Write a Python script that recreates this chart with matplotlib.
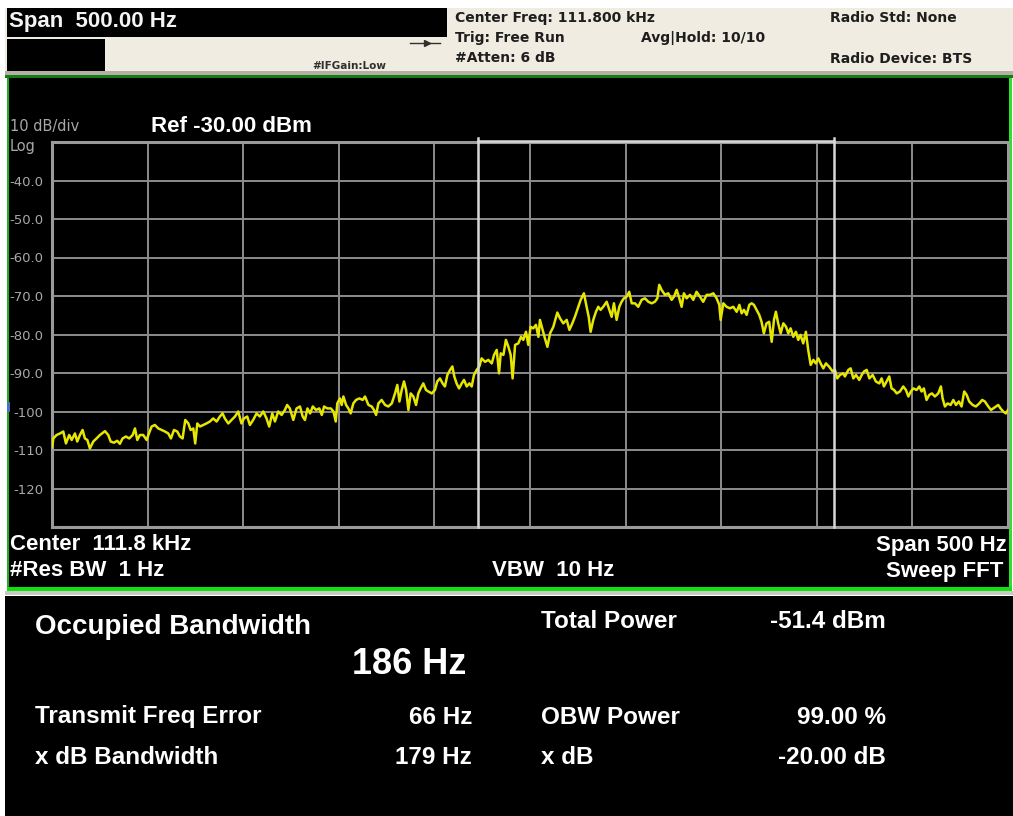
import matplotlib
matplotlib.use("Agg")
import matplotlib.pyplot as plt
from matplotlib.patches import Rectangle

# trace: offset from centre (Hz) and level (dBm)
freq_hz = [
    -250.0, -249.3, -247.6, -245.8, -244.1, -242.7, -241.0, -239.7, -238.0, -236.8,
    -235.4, -234.0, -232.8, -231.5, -230.2, -228.4, -226.7, -224.9, -222.3, -220.6,
    -219.3, -217.6, -215.9, -214.5, -213.1, -211.3, -209.6, -207.8, -206.6, -205.4,
    -204.0, -202.3, -200.5, -199.3, -197.9, -196.2, -194.4, -192.7, -190.9, -189.2,
    -187.8, -186.2, -184.5, -183.1, -181.7, -180.3, -178.7, -177.5, -176.1, -175.1,
    -174.0, -172.6, -170.9, -169.2, -167.4, -165.7, -163.9, -162.2, -160.8, -159.6,
    -157.8, -156.1, -154.3, -152.6, -150.9, -149.6, -147.9, -146.5, -144.8, -143.0,
    -141.3, -139.5, -137.8, -136.4, -134.8, -133.4, -131.7, -129.9, -128.2, -127.0,
    -125.6, -123.8, -122.1, -120.3, -118.9, -117.7, -116.4, -115.0, -113.6, -111.9,
    -110.2, -108.9, -107.7, -106.0, -104.2, -102.8, -101.6, -100.8, -99.4, -98.5,
    -97.6, -96.2, -95.0, -93.8, -92.4, -91.0, -89.2, -87.5, -86.3, -84.5,
    -82.8, -81.6, -80.5, -79.3, -77.6, -75.8, -74.1, -72.3, -70.6, -69.4,
    -68.3, -67.1, -65.9, -64.8, -63.6, -62.4, -61.0, -59.6, -58.4, -57.2,
    -55.8, -54.4, -53.2, -51.4, -49.7, -48.5, -47.1, -45.7, -44.5, -43.2,
    -41.8, -40.6, -39.6, -38.4, -37.1, -35.7, -34.5, -33.1, -31.7, -30.5,
    -29.3, -27.9, -26.5, -25.3, -23.5, -21.8, -20.0, -18.8, -17.4, -16.2,
    -15.3, -13.9, -12.6, -11.3, -10.1, -9.1, -7.8, -6.1, -4.7, -3.5,
    -2.1, -0.9, 0.3, 1.7, 3.1, 4.4, 5.2, 6.6, 7.8, 9.1,
    10.5, 12.2, 14.3, 15.7, 17.4, 19.2, 20.6, 21.8, 23.5, 25.3,
    26.5, 28.2, 29.6, 30.7, 31.7, 33.1, 34.5, 35.7, 36.9, 38.3,
    40.1, 41.5, 42.7, 43.9, 45.3, 46.7, 47.9, 49.1, 50.5, 51.9,
    53.2, 54.9, 56.6, 58.4, 60.1, 61.9, 63.6, 65.3, 66.6, 67.6,
    68.8, 70.6, 72.3, 74.1, 75.3, 76.7, 78.1, 79.3, 80.5, 81.9,
    83.7, 85.4, 87.1, 88.9, 90.6, 92.4, 94.1, 95.9, 97.6, 99.0,
    99.7, 101.1, 102.8, 104.6, 106.3, 108.1, 109.5, 110.7, 111.9, 113.3,
    114.7, 115.9, 117.1, 118.5, 119.9, 121.1, 122.3, 123.7, 125.1, 126.4,
    127.6, 128.6, 129.8, 131.1, 132.5, 133.9, 135.1, 136.3, 137.7, 139.1,
    140.3, 141.5, 142.9, 144.3, 145.5, 146.8, 148.2, 149.5, 150.8, 152.0,
    153.4, 154.8, 156.5, 158.3, 159.5, 160.7, 162.1, 163.8, 164.7, 166.5,
    167.7, 169.1, 170.5, 172.2, 173.5, 174.7, 176.1, 177.5, 179.2, 180.9,
    182.7, 183.9, 185.1, 186.5, 187.9, 189.1, 190.4, 191.8, 193.5, 195.2,
    196.6, 197.9, 199.2, 200.5, 202.2, 203.6, 204.8, 206.0, 207.4, 208.8,
    210.2, 211.8, 213.5, 214.9, 215.8, 217.0, 218.4, 220.0, 221.4, 222.8,
    224.3, 225.7, 227.1, 228.4, 229.7, 231.5, 233.2, 235.0, 236.5, 237.9,
    239.7, 241.1, 242.3, 243.7, 244.9, 246.1, 247.5, 248.9, 250.0,
]
level_dbm = [
    -109.3, -107.0, -106.1, -105.7, -105.2, -108.3, -106.1, -107.4, -105.7, -107.8,
    -106.1, -104.8, -107.0, -107.4, -109.6, -107.8, -107.0, -106.1, -105.1, -106.1,
    -107.8, -108.1, -107.6, -108.4, -107.0, -106.5, -107.0, -106.1, -104.4, -107.4,
    -106.1, -106.1, -107.4, -105.7, -103.9, -103.5, -104.4, -104.8, -105.2, -105.7,
    -107.0, -104.8, -105.2, -106.5, -107.0, -102.2, -103.1, -104.8, -104.4, -108.3,
    -103.1, -103.9, -103.5, -103.1, -102.6, -101.8, -102.6, -101.3, -100.5, -101.8,
    -103.1, -102.2, -101.3, -100.0, -103.1, -101.8, -101.3, -103.5, -102.2, -100.5,
    -101.3, -100.0, -101.8, -103.9, -100.5, -102.6, -100.0, -100.9, -99.6, -98.3,
    -99.2, -102.2, -99.2, -98.7, -101.3, -102.2, -99.2, -100.5, -98.7, -99.6,
    -99.2, -100.9, -98.7, -99.2, -99.2, -100.0, -102.6, -97.9, -96.6, -98.3,
    -96.1, -98.3, -99.2, -100.5, -97.9, -97.0, -96.6, -97.0, -96.1, -98.3,
    -98.7, -99.6, -100.9, -97.9, -97.0, -98.3, -98.7, -97.9, -95.3, -93.1,
    -97.4, -94.4, -92.2, -94.4, -99.6, -95.3, -96.1, -98.3, -95.3, -94.0,
    -92.7, -94.4, -94.8, -95.3, -94.4, -92.2, -91.4, -92.7, -93.5, -90.5,
    -89.2, -88.3, -90.9, -92.7, -94.0, -92.7, -91.8, -93.5, -92.7, -93.5,
    -90.5, -89.2, -88.3, -86.2, -87.1, -86.6, -87.5, -85.3, -84.0, -90.1,
    -84.9, -85.3, -81.4, -83.2, -85.3, -91.4, -82.7, -82.3, -80.6, -81.4,
    -79.3, -82.7, -78.0, -78.4, -77.5, -80.6, -76.2, -78.8, -81.0, -83.2,
    -79.7, -78.0, -74.3, -75.8, -77.1, -76.2, -78.8, -77.5, -75.4, -72.8,
    -71.0, -69.3, -72.8, -75.4, -79.3, -76.2, -74.1, -72.8, -73.6, -72.8,
    -71.5, -73.6, -75.4, -71.9, -76.2, -72.8, -71.5, -70.6, -70.2, -68.9,
    -71.9, -71.9, -72.8, -71.0, -70.6, -71.5, -71.9, -71.5, -70.6, -67.1,
    -68.4, -69.7, -69.3, -71.0, -70.2, -68.4, -70.6, -72.8, -69.3, -70.6,
    -69.7, -71.0, -68.9, -70.2, -71.5, -69.7, -69.7, -69.3, -70.6, -72.3,
    -76.2, -71.9, -72.8, -73.2, -72.8, -74.1, -72.3, -74.5, -73.6, -74.9,
    -72.3, -71.9, -72.3, -73.6, -74.9, -76.7, -79.7, -77.1, -76.7, -81.9,
    -76.2, -74.1, -77.1, -79.7, -77.1, -78.0, -79.7, -78.4, -80.6, -79.3,
    -81.4, -80.1, -82.3, -79.3, -84.0, -87.9, -86.6, -87.5, -86.2, -87.5,
    -88.8, -87.5, -88.4, -89.6, -89.2, -91.4, -90.5, -90.1, -90.9, -89.2,
    -88.8, -91.4, -90.5, -91.8, -90.5, -89.6, -89.2, -91.4, -90.5, -92.2,
    -92.7, -91.4, -93.5, -92.2, -90.9, -94.0, -94.4, -95.3, -94.8, -93.5,
    -94.4, -96.1, -94.8, -94.0, -94.4, -93.5, -94.8, -94.0, -97.0, -95.7,
    -95.3, -96.1, -95.3, -93.5, -96.6, -98.7, -97.9, -98.3, -97.0, -98.3,
    -97.4, -98.7, -94.8, -95.7, -97.4, -98.3, -98.7, -97.9, -97.0, -97.4,
    -98.7, -99.6, -99.2, -98.7, -98.3, -99.2, -100.0, -100.5, -99.6,
]
assert len(freq_hz) == len(level_dbm)

ytick_vals = [-40, -50, -60, -70, -80, -90, -100, -110, -120]
ytick_labels = ["-40.0", "-50.0", "-60.0", "-70.0", "-80.0", "-90.0", "-100", "-110", "-120"]
xtick_vals = [-200, -150, -100, -50, 0, 50, 100, 150, 200]

ref_level = -30
db_per_div = 10
span_hz = 500
obw_hz = 186
freq_err_hz = 66
obw_left = freq_err_hz - obw_hz / 2
obw_right = freq_err_hz + obw_hz / 2

W, H = 1013, 816
fig = plt.figure(figsize=(W / 100, H / 100), dpi=100, facecolor="white")

# background panels drawn in pixel coordinates
bg = fig.add_axes([0, 0, 1, 1])
bg.set_xlim(0, W)
bg.set_ylim(H, 0)
bg.axis("off")

def box(x, y, w, h, c):
    bg.add_patch(Rectangle((x, y), w, h, facecolor=c, edgecolor="none"))

box(5, 8, 1008, 65, "#f1ece1")
box(7, 8, 440, 29, "black")
box(7, 39, 98, 33, "black")
box(5, 71, 1008, 4, "#b4b0a6")
box(5, 75, 1008, 3, "#167a16")
box(7, 78, 1004, 510, "black")
box(7, 78, 2, 512, "#1fae1f")
box(1009, 78, 3, 512, "#2fe02f")
box(7, 587, 1005, 4, "#10e010")
box(5, 591, 1008, 4, "#c9c9c4")
box(5, 596, 1008, 220, "black")
box(7, 402, 3, 10, "#4a70c0")

hdr = dict(family="DejaVu Sans", fontweight="bold", fontsize=10, color="#1e1e1e", va="center")
bg.text(9, 22, "Span  500.00 Hz", family="Liberation Sans", fontweight="bold", fontsize=16,
        color="#f4f4f4", va="center")
bg.text(455, 18, "Center Freq: 111.800 kHz", **hdr)
bg.text(455, 38, "Trig: Free Run", **hdr)
bg.text(455, 58, "#Atten: 6 dB", **hdr)
bg.text(641, 38, "Avg|Hold: 10/10", **hdr)
bg.text(830, 18, "Radio Std: None", **hdr)
bg.text(830, 59, "Radio Device: BTS", **hdr)
bg.text(312, 66, "#IFGain:Low", family="DejaVu Sans", fontweight="bold", fontsize=7.5,
        color="#303030", va="center")
bg.plot([410, 440], [43, 43], color="#303030", lw=1)
bg.plot([427], [43], marker=">", color="#303030", ms=5)

gray = "#a8a8a8"
bg.text(10, 127, "10 dB/div", family="DejaVu Sans", fontsize=10.5, color=gray, va="center")
bg.text(10, 147, "Log", family="DejaVu Sans", fontsize=10.5, color=gray, va="center")
bg.text(151, 126, "Ref %.2f dBm" % ref_level, family="Liberation Sans", fontweight="bold",
        fontsize=16, color="white", va="center")

foot = dict(family="Liberation Sans", fontweight="bold", fontsize=16, color="white", va="center")
bg.text(10, 545, "Center  111.8 kHz", **foot)
bg.text(10, 571, "#Res BW  1 Hz", **foot)
bg.text(492, 571, "VBW  10 Hz", **foot)
bg.text(1007, 545, "Span %d Hz" % span_hz, ha="right", **foot)
bg.text(1003, 571, "Sweep FFT", ha="right", **foot)

res = dict(family="Liberation Sans", fontweight="bold", fontsize=17.5, color="white", va="center")
bg.text(35, 627, "Occupied Bandwidth", family="Liberation Sans", fontweight="bold",
        fontsize=20, color="white", va="center")
bg.text(352, 665, "%d Hz" % obw_hz, family="Liberation Sans", fontweight="bold",
        fontsize=26, color="white", va="center")
bg.text(541, 622, "Total Power", **res)
bg.text(886, 622, "-51.4 dBm", ha="right", **res)
bg.text(35, 717, "Transmit Freq Error", **res)
bg.text(472, 717, "%d Hz" % freq_err_hz, ha="right", **res)
bg.text(541, 717, "OBW Power", **res)
bg.text(886, 717, "99.00 %", ha="right", **res)
bg.text(35, 758, "x dB Bandwidth", **res)
bg.text(472, 758, "179 Hz", ha="right", **res)
bg.text(541, 758, "x dB", **res)
bg.text(886, 758, "-20.00 dB", ha="right", **res)

# spectrum graticule
ax = fig.add_axes([52 / W, 1 - 527 / H, 956 / W, 385 / H])
ax.set_facecolor("black")
ax.set_xlim(-span_hz / 2, span_hz / 2)
ax.set_ylim(ref_level - 10 * db_per_div, ref_level)
ax.set_yticks(ytick_vals)
ax.set_yticklabels(ytick_labels, family="DejaVu Sans", fontsize=9.5, color=gray)
ax.set_xticks(xtick_vals)
ax.tick_params(length=0, labelbottom=False, pad=6)
ax.grid(True, color="#8c8c8c", lw=1.4)
for s in ax.spines.values():
    s.set_color("#9a9a9a")
    s.set_linewidth(2.2)

ax.plot(freq_hz, level_dbm, color="#e6e600", lw=1.8, zorder=3)

# OBW markers
top = ref_level + 1.0
for f in (obw_left, obw_right):
    ax.plot([f, f], [ref_level - 10 * db_per_div, top], color="#d8d8d8", lw=1.8,
            clip_on=False, zorder=4)
ax.plot([obw_left, obw_right], [ref_level + 0.35, ref_level + 0.35], color="#d8d8d8",
        lw=1.8, clip_on=False, zorder=4)

fig.savefig("out.png", dpi=100, facecolor="white")
